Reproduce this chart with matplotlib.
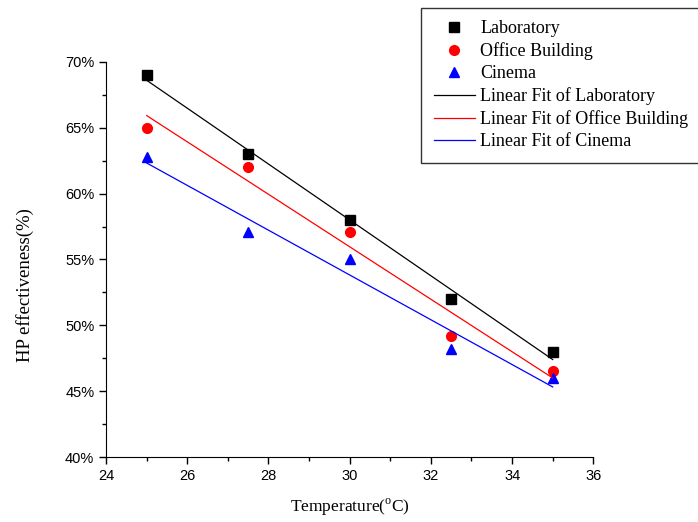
import numpy as np
import matplotlib.pyplot as plt
from matplotlib.ticker import MultipleLocator, FuncFormatter

# temperatures (C)
temps = [25, 27.5, 30, 32.5, 35]
# HP effectiveness (%)
lab = [69.0, 63.0, 58.0, 52.0, 48.0]
office = [65.0, 62.0, 57.1, 49.2, 46.5]
cinema = [62.8, 57.1, 55.0, 48.2, 46.0]

serif = "Liberation Serif"
sans = "Liberation Sans"
plt.rcParams["mathtext.fontset"] = "custom"
plt.rcParams["mathtext.rm"] = serif

fig = plt.figure(figsize=(6.98, 5.22), dpi=100)
ax = fig.add_axes([0.152, 0.1245, 0.698, 0.757])

ax.plot(temps, lab, "s", color="black", markersize=6.5, label="Laboratory")
ax.plot(temps, office, "o", color="red", markersize=7, label="Office Building")
ax.plot(temps, cinema, "^", color="blue", markersize=7.5, label="Cinema")

# linear fits
x = np.array(temps)
for ys, c, name in [(lab, "black", "Laboratory"),
                    (office, "red", "Office Building"),
                    (cinema, "blue", "Cinema")]:
    k, b = np.polyfit(x, ys, 1)
    ax.plot(x, k * x + b, "-", color=c, linewidth=0.9, label="Linear Fit of " + name)

ax.set_xlim(24, 36)
ax.set_ylim(40, 70)
ax.xaxis.set_major_locator(MultipleLocator(2))
ax.xaxis.set_minor_locator(MultipleLocator(1))
ax.yaxis.set_major_locator(MultipleLocator(5))
ax.yaxis.set_minor_locator(MultipleLocator(2.5))
ax.yaxis.set_major_formatter(FuncFormatter(lambda v, p: "%d%%" % v))
ax.tick_params(which="major", direction="out", length=5, width=1, labelsize=10.5)
ax.tick_params(which="minor", direction="out", length=3, width=1)
for lbl in ax.get_xticklabels() + ax.get_yticklabels():
    lbl.set_family(sans)

ax.spines["top"].set_visible(False)
ax.spines["right"].set_visible(False)

ax.set_xlabel("Temperature($^{\\rm o}$C)", fontsize=12.5, family=serif, labelpad=10)
fig.text(25 / 698, 1 - 285 / 522, "HP effectiveness(%)", rotation=90,
         ha="center", va="center", fontsize=13.5, family=serif)

leg = fig.legend(loc="upper left", bbox_to_anchor=(0.603, 0.985),
                 prop={"family": serif, "size": 13}, frameon=True,
                 fancybox=False, edgecolor="black", handlelength=2.3,
                 handletextpad=0.3, labelspacing=0.28, borderpad=0.7,
                 borderaxespad=0)
leg.get_frame().set_linewidth(1)

plt.savefig("out.png", dpi=100)
